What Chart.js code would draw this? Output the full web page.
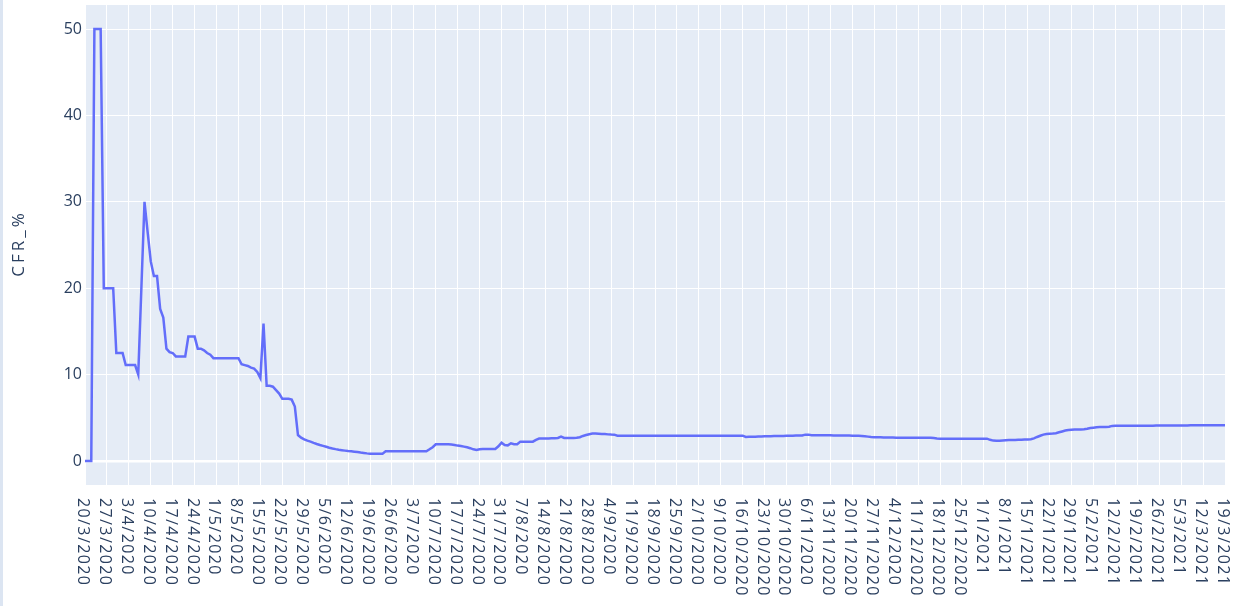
<!DOCTYPE html>
<html>
<head>
<meta charset="utf-8">
<script src="https://cdn.jsdelivr.net/npm/chart.js@4.4.0/dist/chart.umd.min.js"></script>
<style>
  html, body { margin: 0; padding: 0; background: #fff; }
  canvas { position: absolute; left: 0; top: 0; }
  #marco { position: absolute; left: 0; top: 0; width: 3px; height: 606px; background: #dce5f2; }
</style>
</head>
<body>
<canvas id="miGrafico" width="1239" height="606"></canvas>
<div id="marco"></div>
<script>
// Fechas diarias desde el 20/3/2020
const inicio = Date.UTC(2020, 2, 20);
const numDias = 365;
const fechas = [];
for (let i = 0; i < numDias; i++) {
  const d = new Date(inicio + i * 86400000);
  fechas.push(d.getUTCDate() + '/' + (d.getUTCMonth() + 1) + '/' + d.getUTCFullYear());
}
const pasoEtiquetas = 7;
const ticksY = [0, 10, 20, 30, 40, 50];

// CFR_% (un valor por día)
const cfr = [
  0, 0, 0, 50, 50, 50, 20, 20, 20, 20,
  12.5, 12.5, 12.5, 11.1, 11.1, 11.1, 11.1, 10.0, 20, 30,
  26.5, 23.1, 21.4, 21.4, 17.6, 16.6, 13.0, 12.6, 12.5, 12.1,
  12.1, 12.1, 12.1, 14.4, 14.4, 14.4, 13.0, 13.0, 12.8, 12.5,
  12.3, 11.9, 11.9, 11.9, 11.9, 11.9, 11.9, 11.9, 11.9, 11.9,
  11.2, 11.1, 11.0, 10.8, 10.7, 10.3, 9.6, 15.9, 8.7, 8.7,
  8.6, 8.2, 7.8, 7.2, 7.2, 7.2, 7.1, 6.3, 3.0, 2.7,
  2.5, 2.35, 2.24, 2.1, 1.97, 1.85, 1.75, 1.65, 1.54, 1.45,
  1.37, 1.3, 1.25, 1.2, 1.15, 1.12, 1.08, 1.03, 0.97, 0.93,
  0.88, 0.85, 0.85, 0.85, 0.85, 0.85, 1.12, 1.12, 1.12, 1.12,
  1.12, 1.12, 1.12, 1.12, 1.12, 1.12, 1.12, 1.12, 1.12, 1.12,
  1.35, 1.6, 1.93, 1.93, 1.93, 1.93, 1.93, 1.9, 1.85, 1.78,
  1.74, 1.66, 1.58, 1.48, 1.35, 1.27, 1.35, 1.39, 1.39, 1.39,
  1.39, 1.39, 1.7, 2.12, 1.85, 1.81, 2.05, 1.93, 1.93, 2.24,
  2.24, 2.24, 2.24, 2.24, 2.45, 2.59, 2.6, 2.6, 2.6, 2.62,
  2.64, 2.66, 2.82, 2.66, 2.66, 2.66, 2.66, 2.68, 2.75, 2.9,
  3.0, 3.1, 3.17, 3.17, 3.15, 3.13, 3.12, 3.08, 3.06, 3.05,
  2.93, 2.93, 2.93, 2.93, 2.93, 2.93, 2.93, 2.93, 2.93, 2.93,
  2.93, 2.93, 2.93, 2.93, 2.93, 2.93, 2.93, 2.93, 2.93, 2.93,
  2.93, 2.93, 2.93, 2.93, 2.93, 2.93, 2.93, 2.93, 2.93, 2.93,
  2.93, 2.93, 2.93, 2.93, 2.93, 2.93, 2.93, 2.93, 2.93, 2.93,
  2.93, 2.78, 2.8, 2.8, 2.8, 2.82, 2.84, 2.85, 2.86, 2.87,
  2.88, 2.89, 2.9, 2.9, 2.91, 2.92, 2.93, 2.94, 2.95, 2.96,
  3.05, 3.05, 2.99, 2.98, 2.98, 2.97, 2.97, 2.97, 2.97, 2.96,
  2.95, 2.95, 2.94, 2.94, 2.94, 2.93, 2.93, 2.92, 2.9, 2.86,
  2.82, 2.78, 2.76, 2.75, 2.74, 2.73, 2.72, 2.71, 2.71, 2.7,
  2.7, 2.7, 2.7, 2.7, 2.7, 2.7, 2.7, 2.7, 2.7, 2.7,
  2.7, 2.66, 2.6, 2.58, 2.58, 2.58, 2.58, 2.58, 2.58, 2.58,
  2.58, 2.58, 2.58, 2.58, 2.58, 2.58, 2.58, 2.58, 2.58, 2.45,
  2.36, 2.33, 2.35, 2.38, 2.4, 2.42, 2.43, 2.44, 2.45, 2.46,
  2.48, 2.5, 2.52, 2.62, 2.78, 2.92, 3.05, 3.13, 3.16, 3.18,
  3.22, 3.32, 3.42, 3.52, 3.58, 3.62, 3.63, 3.64, 3.65, 3.67,
  3.74, 3.82, 3.86, 3.9, 3.92, 3.93, 3.94, 3.96, 4.06, 4.09,
  4.09, 4.09, 4.09, 4.09, 4.09, 4.09, 4.09, 4.09, 4.09, 4.09,
  4.09, 4.09, 4.12, 4.12, 4.12, 4.12, 4.12, 4.12, 4.12, 4.12,
  4.12, 4.12, 4.12, 4.15, 4.15, 4.15, 4.15, 4.15, 4.15, 4.15,
  4.15, 4.15, 4.15, 4.15, 4.14
];

const colorTexto = '#2a3f5f';
const fuente = '"Open Sans", "Noto Sans", sans-serif';

// Fondo del área del gráfico
const fondo = {
  id: 'fondo',
  beforeDraw(chart) {
    const a = chart.chartArea;
    const ctx = chart.ctx;
    ctx.save();
    ctx.fillStyle = '#e5ecf6';
    ctx.fillRect(a.left, a.top, a.right - a.left, a.bottom - a.top);
    ctx.restore();
  }
};

// Etiquetas del eje x giradas y título del eje y
const textos = {
  id: 'textos',
  afterDraw(chart) {
    const ctx = chart.ctx;
    const x = chart.scales.x;
    const a = chart.chartArea;
    ctx.save();
    ctx.fillStyle = colorTexto;
    ctx.font = '16px ' + fuente;
    ctx.letterSpacing = '1.4px';
    ctx.textAlign = 'left';
    ctx.textBaseline = 'middle';
    x.ticks.forEach(t => {
      ctx.save();
      ctx.translate(x.getPixelForValue(t.value) - 2.5, a.bottom + 13);
      ctx.rotate(Math.PI / 2);
      ctx.fillText(fechas[t.value], 0, 0);
      ctx.restore();
    });
    ctx.font = '17px ' + fuente;
    ctx.letterSpacing = '3px';
    ctx.translate(19, (a.top + a.bottom) / 2);
    ctx.rotate(-Math.PI / 2);
    ctx.textAlign = 'center';
    ctx.fillText('CFR_%', 1.5, 0);
    ctx.restore();
  }
};

const data = {
  labels: fechas,
  datasets: [
    {
      label: 'CFR_%',
      data: cfr,
      borderColor: '#636efa',
      borderWidth: 2.5,
      pointRadius: 0,
      tension: 0,
      fill: false,
    },
  ],
};

const options = {
  responsive: false,
  animation: false,
  devicePixelRatio: 1,
  layout: { padding: { top: 5, right: 14, left: 0, bottom: 0 } },
  plugins: {
    legend: { display: false },
    tooltip: { enabled: false },
  },
  scales: {
    x: {
      type: 'category',
      offset: false,
      border: { display: false },
      grid: { color: '#ffffff', lineWidth: 1, drawTicks: false },
      ticks: { display: false, autoSkip: false },
      afterBuildTicks(scale) {
        scale.ticks = scale.ticks.filter(t => t.value % pasoEtiquetas === 0);
      },
      afterFit(scale) {
        scale.height = 121;
        scale.paddingLeft = 0;
        scale.paddingRight = 0;
      },
    },
    y: {
      min: -2.78,
      max: 52.78,
      border: { display: false },
      grid: {
        color: '#ffffff',
        lineWidth: c => (c.tick && c.tick.value === 0 ? 2.5 : 1),
        drawTicks: false,
      },
      ticks: {
        color: colorTexto,
        font: { size: 16, family: fuente },
        padding: 3,
      },
      afterBuildTicks(scale) {
        scale.ticks = ticksY.map(v => ({ value: v }));
      },
      afterFit(scale) {
        scale.width = 85;
        scale.paddingTop = 0;
        scale.paddingBottom = 0;
      },
    },
  },
};

const canvas = document.getElementById('miGrafico');
const ctx = canvas.getContext('2d');
new Chart(ctx, {
  type: 'line',
  data: data,
  options: options,
  plugins: [fondo, textos],
});
</script>
</body>
</html>
